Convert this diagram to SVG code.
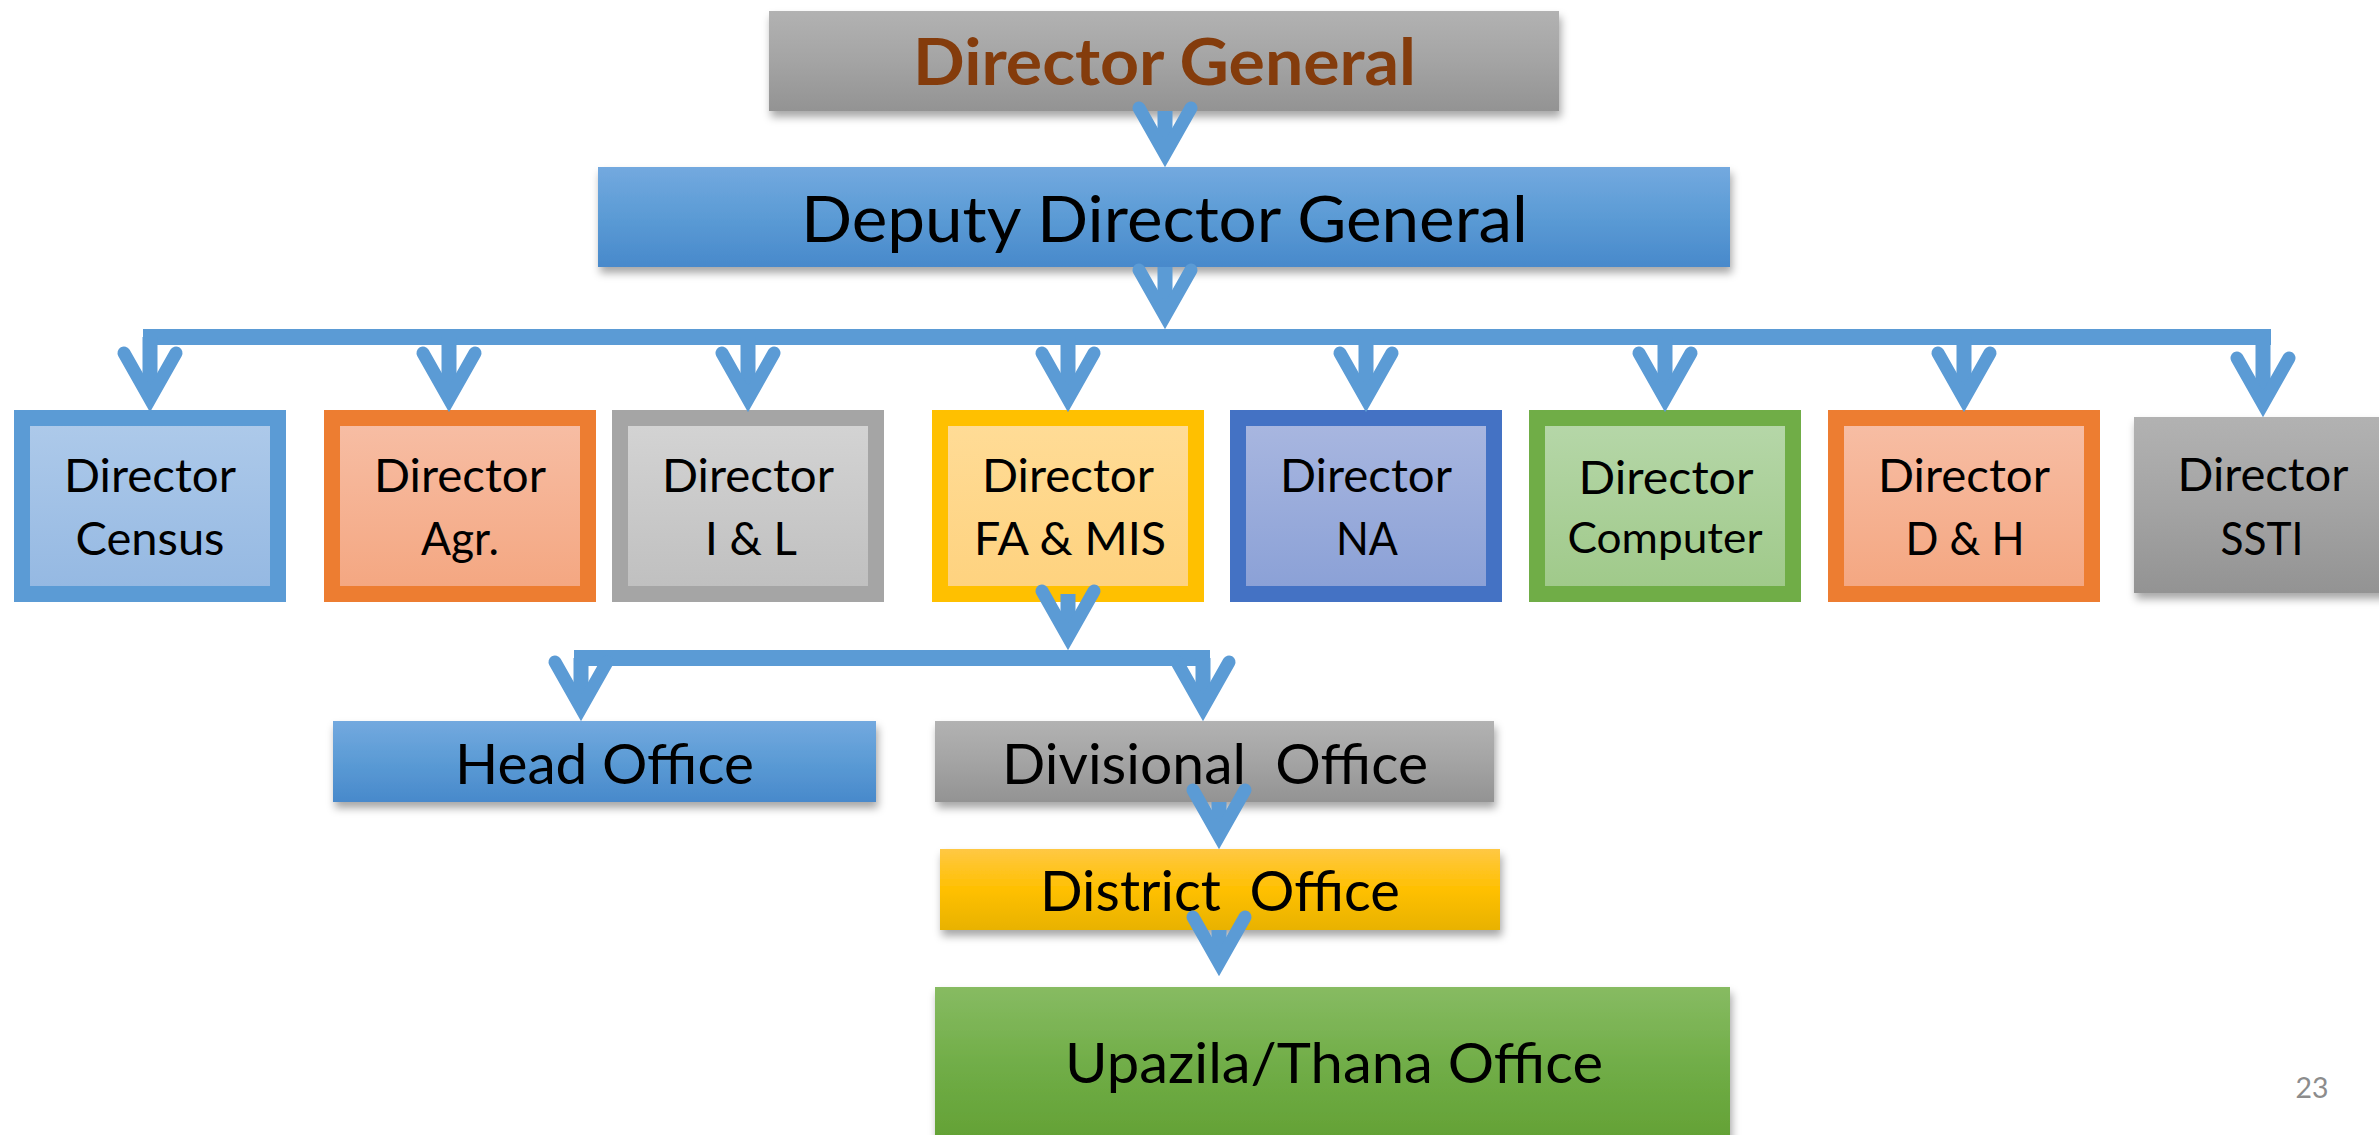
<svg xmlns="http://www.w3.org/2000/svg" width="2379" height="1135" viewBox="0 0 2379 1135">
<style>
  text { font-family: Lato, "Open Sans", "Liberation Sans", sans-serif; fill: #000; text-anchor: middle; }
  .dg { font-size: 65px; font-weight: bold; fill: #843c0c; }
  .big { font-size: 63px; }
  .dir { font-size: 46px; }
  .off { font-size: 57px; }
  .pg { font-size: 29px; fill: #8c8c8c; }
  .bd { stroke-width: 16; }
  .conn { fill: none; stroke: #5b9bd5; stroke-width: 15; }
  .bar { fill: none; stroke: #5b9bd5; stroke-width: 16; }
  .shadow { filter: url(#sh); }
</style>
<defs>
  <filter id="sh" x="-10%" y="-20%" width="120%" height="150%">
    <feDropShadow dx="2" dy="6" stdDeviation="4" flood-color="#000" flood-opacity="0.35"/>
  </filter>
  <marker id="ah" markerUnits="userSpaceOnUse" orient="auto" refX="-20" refY="0" markerWidth="1" markerHeight="1" overflow="visible">
    <path d="M-59,-26 L-13,0 L-59,26" fill="none" stroke="#5b9bd5" stroke-width="13" stroke-linecap="round" stroke-linejoin="miter"/>
  </marker>
  <linearGradient id="gGray" x1="0" y1="0" x2="0" y2="1"><stop offset="0" stop-color="#b2b2b2"/><stop offset="0.5" stop-color="#a4a4a4"/><stop offset="1" stop-color="#939393"/></linearGradient>
  <linearGradient id="gBlue" x1="0" y1="0" x2="0" y2="1"><stop offset="0" stop-color="#73a9df"/><stop offset="0.5" stop-color="#5b9bd5"/><stop offset="1" stop-color="#4889cb"/></linearGradient>
  <linearGradient id="gYellow" x1="0" y1="0" x2="0" y2="1"><stop offset="0" stop-color="#ffc844"/><stop offset="0.5" stop-color="#ffc000"/><stop offset="1" stop-color="#e8b200"/></linearGradient>
  <linearGradient id="gGreen" x1="0" y1="0" x2="0" y2="1"><stop offset="0" stop-color="#87bb62"/><stop offset="0.5" stop-color="#70ad47"/><stop offset="1" stop-color="#62a033"/></linearGradient>
  <linearGradient id="fCensus" x1="0" y1="0" x2="0" y2="1"><stop offset="0" stop-color="#aecaea"/><stop offset="1" stop-color="#94b8e2"/></linearGradient>
  <linearGradient id="fOrange" x1="0" y1="0" x2="0" y2="1"><stop offset="0" stop-color="#f7bea5"/><stop offset="1" stop-color="#f4a680"/></linearGradient>
  <linearGradient id="fGray" x1="0" y1="0" x2="0" y2="1"><stop offset="0" stop-color="#d4d4d4"/><stop offset="1" stop-color="#bfbfbf"/></linearGradient>
  <linearGradient id="fGold" x1="0" y1="0" x2="0" y2="1"><stop offset="0" stop-color="#ffdc97"/><stop offset="1" stop-color="#fed27e"/></linearGradient>
  <linearGradient id="fNavy" x1="0" y1="0" x2="0" y2="1"><stop offset="0" stop-color="#a9b7e0"/><stop offset="1" stop-color="#8aa0d6"/></linearGradient>
  <linearGradient id="fGreen" x1="0" y1="0" x2="0" y2="1"><stop offset="0" stop-color="#b6d7a9"/><stop offset="1" stop-color="#9fc989"/></linearGradient>
</defs>
<rect width="2379" height="1135" fill="#ffffff"/>

<g id="director-general">
  <rect class="shadow" x="769" y="11" width="790" height="100" fill="url(#gGray)"/>
  <text class="dg" x="1164.5" y="85" textLength="503" lengthAdjust="spacingAndGlyphs">Director General</text>
</g>
<g id="deputy-director-general">
  <rect class="shadow" x="598" y="167" width="1132" height="100" fill="url(#gBlue)"/>
  <text class="big" x="1164.5" y="242" textLength="727" lengthAdjust="spacingAndGlyphs">Deputy Director General</text>
</g>

<g id="director-census">
  <rect class="bd" x="22" y="418" width="256" height="176" fill="url(#fCensus)" stroke="#5b9bd5"/>
  <text class="dir" x="150" y="492" textLength="172" lengthAdjust="spacingAndGlyphs">Director</text>
  <text class="dir" x="150" y="555" textLength="149" lengthAdjust="spacingAndGlyphs">Census</text>
</g>
<g id="director-agr">
  <rect class="bd" x="332" y="418" width="256" height="176" fill="url(#fOrange)" stroke="#ed7d31"/>
  <text class="dir" x="460" y="492" textLength="172" lengthAdjust="spacingAndGlyphs">Director</text>
  <text class="dir" x="460" y="555" textLength="78" lengthAdjust="spacingAndGlyphs">Agr.</text>
</g>
<g id="director-il">
  <rect class="bd" x="620" y="418" width="256" height="176" fill="url(#fGray)" stroke="#a5a5a5"/>
  <text class="dir" x="748" y="492" textLength="172" lengthAdjust="spacingAndGlyphs">Director</text>
  <text class="dir" x="751" y="555" textLength="92" lengthAdjust="spacingAndGlyphs">I &amp; L</text>
</g>
<g id="director-fa-mis">
  <rect class="bd" x="940" y="418" width="256" height="176" fill="url(#fGold)" stroke="#ffc000"/>
  <text class="dir" x="1068" y="492" textLength="172" lengthAdjust="spacingAndGlyphs">Director</text>
  <text class="dir" x="1070" y="555" textLength="192" lengthAdjust="spacingAndGlyphs">FA &amp; MIS</text>
</g>
<g id="director-na">
  <rect class="bd" x="1238" y="418" width="256" height="176" fill="url(#fNavy)" stroke="#4472c4"/>
  <text class="dir" x="1366" y="492" textLength="172" lengthAdjust="spacingAndGlyphs">Director</text>
  <text class="dir" x="1367" y="555" textLength="62" lengthAdjust="spacingAndGlyphs">NA</text>
</g>
<g id="director-computer">
  <rect class="bd" x="1537" y="418" width="256" height="176" fill="url(#fGreen)" stroke="#70ad47"/>
  <text class="dir" x="1666" y="494" textLength="175" lengthAdjust="spacingAndGlyphs">Director</text>
  <text class="dir" x="1665" y="553" textLength="195" lengthAdjust="spacingAndGlyphs" style="font-size:43px">Computer</text>
</g>
<g id="director-dh">
  <rect class="bd" x="1836" y="418" width="256" height="176" fill="url(#fOrange)" stroke="#ed7d31"/>
  <text class="dir" x="1964" y="492" textLength="172" lengthAdjust="spacingAndGlyphs">Director</text>
  <text class="dir" x="1965" y="555" textLength="119" lengthAdjust="spacingAndGlyphs">D &amp; H</text>
</g>
<g id="director-ssti">
  <rect class="shadow" x="2134" y="417" width="260" height="176" fill="url(#gGray)"/>
  <text class="dir" x="2263" y="491" textLength="171" lengthAdjust="spacingAndGlyphs">Director</text>
  <text class="dir" x="2262" y="555" textLength="83" lengthAdjust="spacingAndGlyphs">SSTI</text>
</g>

<g id="head-office">
  <rect class="shadow" x="333" y="721" width="543" height="81" fill="url(#gBlue)"/>
  <text class="off" x="604.5" y="784" textLength="299" lengthAdjust="spacingAndGlyphs">Head Office</text>
</g>
<g id="divisional-office">
  <rect class="shadow" x="935" y="721" width="559" height="81" fill="url(#gGray)"/>
  <text class="off" x="1215" y="784" textLength="426" lengthAdjust="spacingAndGlyphs" xml:space="preserve">Divisional  Office</text>
</g>
<g id="district-office">
  <rect class="shadow" x="940" y="849" width="560" height="81" fill="url(#gYellow)"/>
  <text class="off" x="1220" y="911" textLength="360" lengthAdjust="spacingAndGlyphs" xml:space="preserve">District  Office</text>
</g>
<g id="upazila-office">
  <rect class="shadow" x="935" y="987" width="795" height="160" fill="url(#gGreen)"/>
  <text class="off" x="1334" y="1083" textLength="538" lengthAdjust="spacingAndGlyphs">Upazila/Thana Office</text>
</g>

<g id="connectors">
  <path class="conn" d="M1165,111 V147" marker-end="url(#ah)"/>
  <path class="conn" d="M1165,267 V309" marker-end="url(#ah)"/>
  <path class="bar" d="M143,337 H2271"/>
  <path class="conn" d="M150,337 V392" marker-end="url(#ah)"/>
  <path class="conn" d="M449,337 V392" marker-end="url(#ah)"/>
  <path class="conn" d="M748,337 V392" marker-end="url(#ah)"/>
  <path class="conn" d="M1068,337 V392" marker-end="url(#ah)"/>
  <path class="conn" d="M1366,337 V392" marker-end="url(#ah)"/>
  <path class="conn" d="M1665,337 V392" marker-end="url(#ah)"/>
  <path class="conn" d="M1964,337 V392" marker-end="url(#ah)"/>
  <path class="conn" d="M2263,337 V397" marker-end="url(#ah)"/>
  <path class="conn" d="M1068,594 V630" marker-end="url(#ah)"/>
  <path class="bar" d="M574,658 H1210"/>
  <path class="conn" d="M581,658 V701" marker-end="url(#ah)"/>
  <path class="conn" d="M1203,658 V701" marker-end="url(#ah)"/>
  <path class="conn" d="M1219,802 V829" marker-end="url(#ah)"/>
  <path class="conn" d="M1219,930 V956" marker-end="url(#ah)"/>
</g>

<text class="pg" x="2312" y="1098" textLength="33" lengthAdjust="spacingAndGlyphs">23</text>
</svg>
